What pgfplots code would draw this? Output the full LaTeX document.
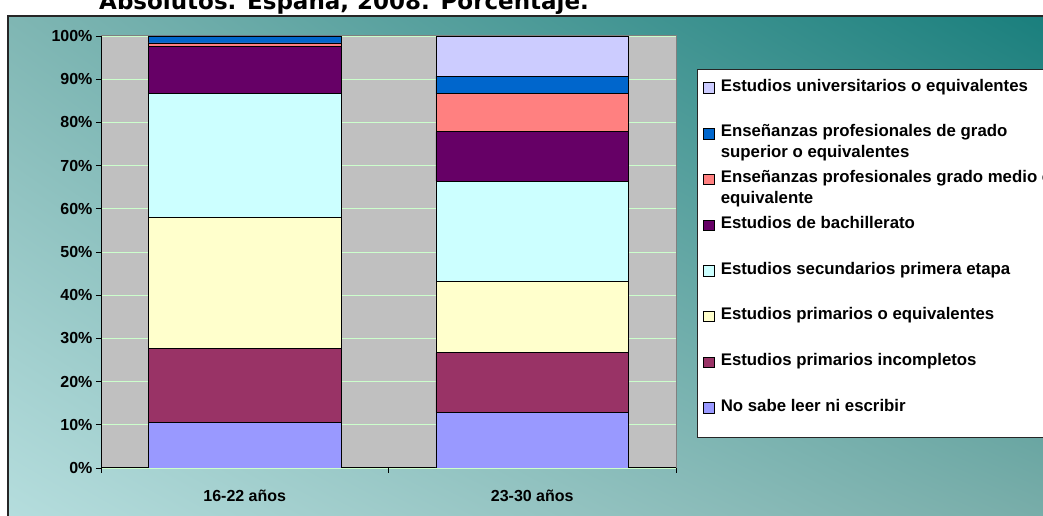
\documentclass[border=0pt]{standalone}
\usepackage{pgfplots}
\usepackage{pgfplotstable}
\pgfplotsset{compat=1.18}
\usetikzlibrary{shadings}
\usepackage{fontspec}
\setmainfont{Liberation Sans}
\newfontfamily\titlefont{DejaVu Sans}
\definecolor{cNoSabe}{HTML}{9999FF}
\definecolor{cIncomp}{HTML}{993366}
\definecolor{cPrim}{HTML}{FFFFCC}
\definecolor{cSec}{HTML}{CCFFFF}
\definecolor{cBach}{HTML}{660066}
\definecolor{cMedio}{HTML}{FF8080}
\definecolor{cSup}{HTML}{0066CC}
\definecolor{cUniv}{HTML}{CCCCFF}
\definecolor{plotgray}{HTML}{C0C0C0}
\definecolor{gridgreen}{HTML}{CCFFCC}
\definecolor{bgUL}{HTML}{7FB6B3}
\definecolor{bgUR}{HTML}{187E7C}
\definecolor{bgLL}{HTML}{B6DEDE}
\definecolor{bgLR}{HTML}{79ADA9}

\pgfplotstableread{
x nosabe incomp prim sec bach medio sup univ
0 10.6 17.1 30.4 28.5 10.9 0.9 1.6 0.0
1 12.9 13.8 16.5 23.2 11.4 8.8 4.1 9.3
}\datatable

\newcommand{\lent}[1]{\parbox[t]{420pt}{\raggedright #1}}

\begin{document}
\begin{tikzpicture}[x=1pt,y=1pt]
\useasboundingbox (0,0) rectangle (1043,516);
\clip (0,0) rectangle (1043,516);
\fill[white] (0,0) rectangle (1043,516);
\node[anchor=base west, inner sep=0pt, font=\titlefont\bfseries\fontsize{23}{27}\selectfont] at (99,506) {Absolutos. España, 2008. Porcentaje.};
\shade[shading=bilinear interpolation, upper left=bgUL, upper right=bgUR, lower left=bgLL, lower right=bgLR] (8,-10) rectangle (1060,500);
\draw[black!85, line width=1.2pt] (8,-10) -- (8,500) -- (1060,500);
\begin{axis}[
  at={(101pt,48pt)}, anchor=south west,
  scale only axis, width=575pt, height=432pt,
  ybar stacked, bar width=0.67,
  xmin=-0.5, xmax=1.5, ymin=0, ymax=100,
  axis x line*=bottom, axis y line*=left,
  axis line style={black, line width=1pt},
  axis background/.style={fill=plotgray, draw=gray, line width=1pt},
  ymajorgrids, major grid style={gridgreen, line width=0.8pt},
  tick align=outside, major tick length=5pt,
  tick style={black, line width=0.8pt},
  ytick={0,10,...,100},
  yticklabel={\pgfmathprintnumber{\tick}\%},
  /pgf/number format/assume math mode=true,
  xtick={-0.5,0.5,1.5}, xticklabels={},
  extra x ticks={0,1},
  extra x tick labels={16-22 años,23-30 años},
  extra x tick style={major tick length=0pt, tick label style={yshift=-18pt}},
  tick label style={font=\bfseries\fontsize{16}{19}\selectfont},
  every axis plot post/.append style={
    legend image code/.code={%
      \path (0pt,-7pt);
      \draw[##1, draw=black, line width=0.8pt] (0pt,0pt) rectangle (10.5pt,10.5pt);}},
  legend style={at={(1.0365,0.9236)}, anchor=north west, draw=black!85, line width=1pt,
    fill=white, inner xsep=6pt, inner ysep=1pt, row sep=0pt, column sep=6pt,
    font=\bfseries\fontsize{16.8}{21}\selectfont,
    nodes={inner sep=0pt, text height=20.7pt, text depth=25pt}},
  legend cell align=left,
  reverse legend,
]
\addplot[fill=cNoSabe, draw=black, line width=0.8pt] table[x=x,y=nosabe]{\datatable};
\addlegendentry{\lent{No sabe leer ni escribir}}
\addplot[fill=cIncomp, draw=black, line width=0.8pt] table[x=x,y=incomp]{\datatable};
\addlegendentry{\lent{Estudios primarios incompletos}}
\addplot[fill=cPrim, draw=black, line width=0.8pt] table[x=x,y=prim]{\datatable};
\addlegendentry{\lent{Estudios primarios o equivalentes}}
\addplot[fill=cSec, draw=black, line width=0.8pt] table[x=x,y=sec]{\datatable};
\addlegendentry{\lent{Estudios secundarios primera etapa}}
\addplot[fill=cBach, draw=black, line width=0.8pt] table[x=x,y=bach]{\datatable};
\addlegendentry{\lent{Estudios de bachillerato}}
\addplot[fill=cMedio, draw=black, line width=0.8pt] table[x=x,y=medio]{\datatable};
\addlegendentry{\lent{Enseñanzas profesionales grado medio o\\equivalente}}
\addplot[fill=cSup, draw=black, line width=0.8pt] table[x=x,y=sup]{\datatable};
\addlegendentry{\lent{Enseñanzas profesionales de grado\\superior o equivalentes}}
\addplot[fill=cUniv, draw=black, line width=0.8pt] table[x=x,y=univ]{\datatable};
\addlegendentry{\lent{Estudios universitarios o equivalentes}}
\end{axis}
\end{tikzpicture}
\end{document}
